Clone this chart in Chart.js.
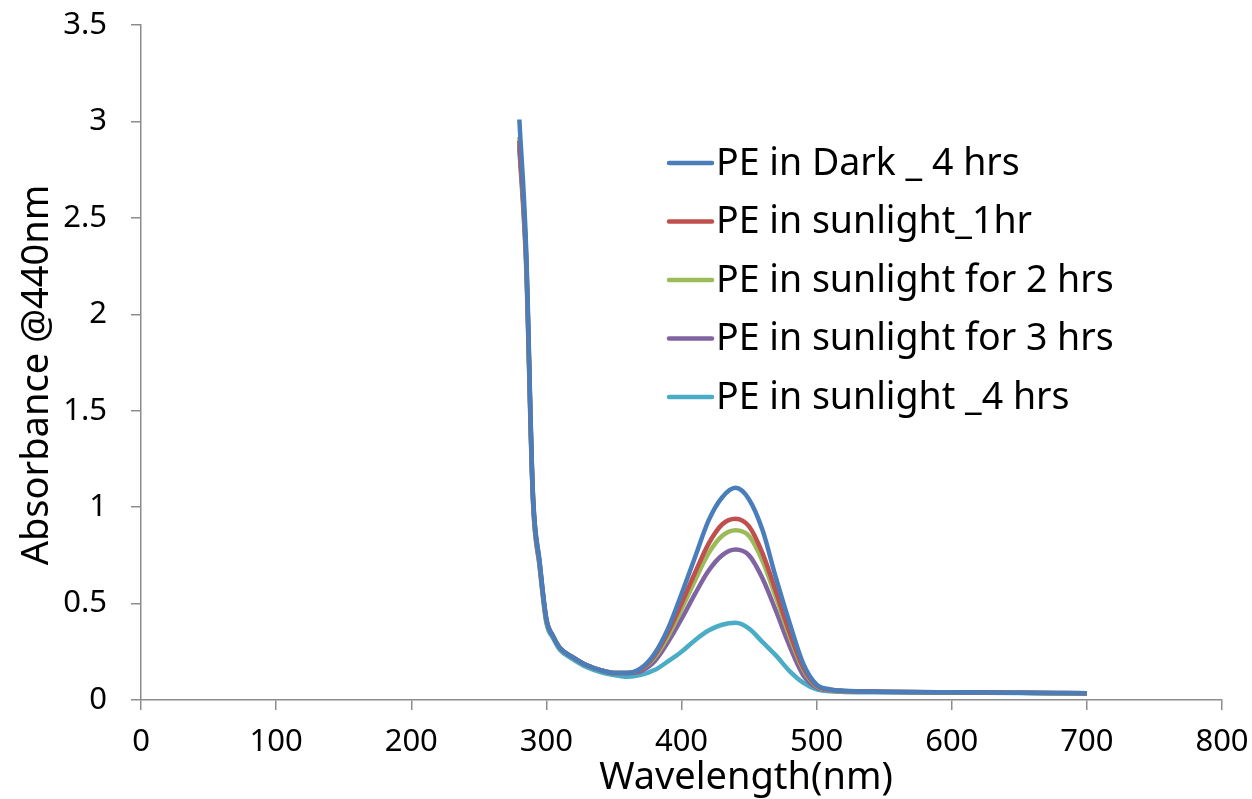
<!DOCTYPE html>
<html>
<head>
<meta charset="utf-8">
<script src="https://cdn.jsdelivr.net/npm/chart.js@4"></script>
<style>
  html, body { margin: 0; padding: 0; background: #fff; }
</style>
</head>
<body>
<canvas id="graph" width="1252" height="799"></canvas>
<script>
// wavelengths (nm) shared by every series
var wavelengths = [280, 285, 290, 295, 300, 305, 310, 320, 330, 340, 350, 360, 370, 380, 390, 400,
  410, 420, 430, 440, 450, 460, 470, 480, 490, 500, 510, 520, 550, 600, 650, 700];

var darkValues = [3.01, 2.35, 1.08, 0.72, 0.42, 0.33, 0.27, 0.22, 0.18, 0.155, 0.14, 0.14, 0.165, 0.24, 0.37, 0.55,
  0.74, 0.93, 1.05, 1.10, 1.04, 0.88, 0.63, 0.40, 0.19, 0.08, 0.055, 0.048, 0.043, 0.04, 0.038, 0.035];
var sun1Values = [2.90, 2.30, 1.07, 0.71, 0.42, 0.33, 0.27, 0.22, 0.18, 0.155, 0.14, 0.14, 0.16, 0.23, 0.35, 0.50,
  0.66, 0.81, 0.91, 0.94, 0.90, 0.76, 0.56, 0.35, 0.17, 0.075, 0.053, 0.047, 0.043, 0.04, 0.038, 0.035];
var sun2Values = [2.92, 2.30, 1.06, 0.71, 0.41, 0.33, 0.27, 0.22, 0.18, 0.155, 0.14, 0.14, 0.16, 0.22, 0.33, 0.47,
  0.62, 0.76, 0.85, 0.88, 0.85, 0.72, 0.53, 0.33, 0.16, 0.072, 0.052, 0.046, 0.042, 0.04, 0.037, 0.034];
var sun3Values = [2.88, 2.28, 1.05, 0.70, 0.41, 0.33, 0.27, 0.22, 0.18, 0.155, 0.14, 0.14, 0.15, 0.20, 0.30, 0.42,
  0.55, 0.67, 0.75, 0.78, 0.75, 0.63, 0.46, 0.28, 0.13, 0.065, 0.05, 0.045, 0.042, 0.04, 0.037, 0.034];
var sun4Values = [2.86, 2.25, 1.04, 0.69, 0.40, 0.32, 0.26, 0.21, 0.17, 0.145, 0.13, 0.12, 0.13, 0.155, 0.20, 0.25,
  0.31, 0.36, 0.39, 0.40, 0.37, 0.30, 0.23, 0.15, 0.09, 0.055, 0.045, 0.042, 0.04, 0.038, 0.036, 0.034];

var seriesLabels = ['PE in Dark _ 4 hrs', 'PE in sunlight_1hr', 'PE in sunlight for 2 hrs',
  'PE in sunlight for 3 hrs', 'PE in sunlight _4 hrs'];
var seriesColors = ['#4a7ebb', '#c0504d', '#9bbb59', '#8064a2', '#4bacc6'];
var seriesValues = [darkValues, sun1Values, sun2Values, sun3Values, sun4Values];

var xTitle = 'Wavelength(nm)';
var yTitle = 'Absorbance @440nm';

var FONT = '"Noto Sans", "Open Sans", sans-serif';

function toPoints(values) {
  return values.map(function (v, i) { return { x: wavelengths[i], y: v }; });
}

var datasets = seriesValues.map(function (vals, i) {
  return {
    label: seriesLabels[i],
    data: toPoints(vals),
    borderColor: seriesColors[i],
    backgroundColor: seriesColors[i],
    borderWidth: 4.5,
    pointRadius: 0,
    showLine: true,
    fill: false,
    cubicInterpolationMode: 'monotone'
  };
});

// legend inside the plot + axis titles, placed like the original
var extras = {
  id: 'extras',
  afterDatasetsDraw: function (chart) {
    var ctx = chart.ctx;
    ctx.save();
    ctx.font = '37.5px ' + FONT;
    ctx.textBaseline = 'middle';
    ctx.fillStyle = '#000';
    chart.data.datasets.forEach(function (ds, i) {
      var y = 163 + i * 58.5;
      ctx.strokeStyle = ds.borderColor;
      ctx.lineWidth = 4.5;
      ctx.lineCap = 'round';
      ctx.beginPath();
      ctx.moveTo(669, y);
      ctx.lineTo(712, y);
      ctx.stroke();
      ctx.fillText(ds.label, 716, y + 1);
    });

    ctx.font = '38px ' + FONT;
    ctx.textAlign = 'center';
    ctx.textBaseline = 'alphabetic';
    ctx.fillText(xTitle, 746, 789);

    ctx.translate(48, 375);
    ctx.rotate(-Math.PI / 2);
    ctx.fillText(yTitle, 0, 0);
    ctx.restore();
  }
};

new Chart(document.getElementById('graph'), {
  type: 'scatter',
  data: { datasets: datasets },
  plugins: [extras],
  options: {
    responsive: false,
    animation: false,
    layout: { padding: { top: 25, right: 30, left: 0, bottom: 0 } },
    plugins: {
      legend: { display: false },
      tooltip: { enabled: false }
    },
    scales: {
      x: {
        type: 'linear',
        min: 0,
        max: 800,
        afterFit: function (scale) {
          scale.height = 99;
          scale.paddingLeft = 0;
          scale.paddingRight = 0;
        },
        ticks: { stepSize: 100, color: '#000', padding: 14, font: { size: 31, family: FONT } },
        grid: { drawOnChartArea: false, tickLength: 10, color: '#8c8c8c', lineWidth: 1.5 },
        border: { color: '#8c8c8c', width: 1.5 }
      },
      y: {
        min: 0,
        max: 3.5,
        afterFit: function (scale) {
          scale.width = 141;
          scale.paddingTop = 0;
          scale.paddingBottom = 0;
        },
        ticks: {
          stepSize: 0.5, color: '#000', padding: 24, font: { size: 31, family: FONT },
          callback: function (v) { return String(v); }
        },
        grid: { drawOnChartArea: false, tickLength: 10, color: '#8c8c8c', lineWidth: 1.5 },
        border: { color: '#8c8c8c', width: 1.5 }
      }
    }
  }
});
</script>
</body>
</html>
